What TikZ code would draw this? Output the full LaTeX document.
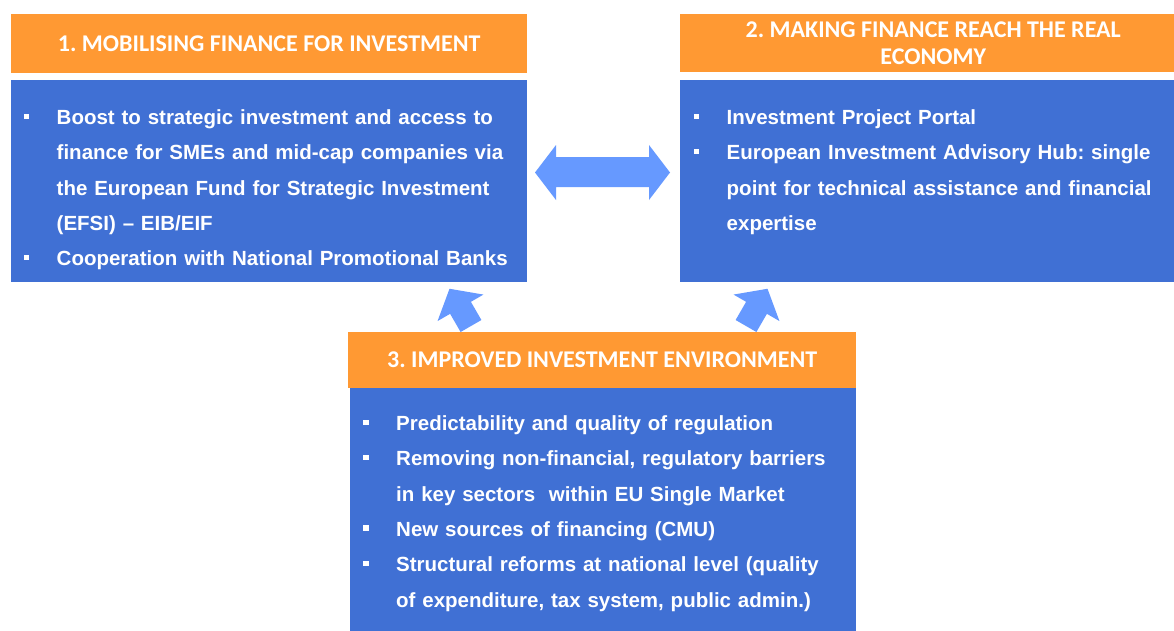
\documentclass[tikz,border=0pt]{standalone}
\usepackage{fontspec}
\setmainfont{Liberation Sans}
\newfontfamily\hdfont{Carlito}
\definecolor{hdorange}{RGB}{255,153,51}
\definecolor{boxblue}{RGB}{64,112,212}
\definecolor{arrowblue}{RGB}{102,153,255}
\newcommand{\bul}{\rule[5.5pt]{5.5pt}{5.5pt}}
\newcommand{\itm}[1]{\par\noindent\llap{\makebox[33pt][l]{\bul}}#1\par}
\newcommand{\itemsetup}{\parindent=0pt\relax\leftskip=33pt\relax}
\tikzset{
  header/.style={fill=hdorange, text=white, font=\hdfont\bfseries\frenchspacing\fontsize{24pt}{27.5pt}\selectfont, align=center, inner sep=0pt, anchor=north west},
  bodybox/.style={fill=boxblue, inner sep=0pt, anchor=north west},
  itemtext/.style={text=white, font=\bfseries\frenchspacing\fontsize{20.5pt}{35.3pt}\selectfont, align=left, inner sep=0pt, anchor=north west, text width=500pt, execute at begin node=\itemsetup},
  blockarrow/.style={fill=arrowblue},
}
\begin{document}
\begin{tikzpicture}[x=1pt,y=-1pt]
\useasboundingbox (0,0) rectangle (1174,630);
\clip (0,0) rectangle (1174,630);
\fill[white] (0,0) rectangle (1174,630);

% block arrows between the panels
\fill[blockarrow] (535,172.5) -- (556,145) -- (556,157) -- (649,157) -- (649,145) -- (670,172.5)
  -- (649,200) -- (649,187) -- (556,187) -- (556,200) -- cycle;
\begin{scope}[shift={(471,326)}, rotate=120]
  \fill[blockarrow] (0,-12) -- (21,-12) -- (21,-26.5) -- (43,0) -- (21,26.5) -- (21,12) -- (0,12) -- cycle;
\end{scope}
\begin{scope}[shift={(746,326)}, rotate=60]
  \fill[blockarrow] (0,-12) -- (21,-12) -- (21,-26.5) -- (43,0) -- (21,26.5) -- (21,12) -- (0,12) -- cycle;
\end{scope}

% panel 1
\node[header, minimum width=516pt, minimum height=58.3pt] (h1) at (11,14) {1. MOBILISING FINANCE FOR INVESTMENT};
\node[bodybox, minimum width=516pt, minimum height=202pt] (b1) at (11,80) {};
\node[itemtext] (t1) at ([xshift=12.5pt,yshift=-9pt]b1.north west) {%
\itm{\rule{0pt}{22pt}Boost to strategic investment and access to\\finance for SMEs and mid-cap companies via\\the European Fund for Strategic Investment\\(EFSI) – EIB/EIF}%
\itm{Cooperation with National Promotional Banks}};

% panel 2
\node[header, minimum width=506pt, minimum height=57.7pt] (h2) at (680,14) {2. MAKING FINANCE REACH THE REAL\\ECONOMY};
\node[bodybox, minimum width=506pt, minimum height=202pt] (b2) at (680,80) {};
\node[itemtext] (t2) at ([xshift=13.5pt,yshift=-9pt]b2.north west) {%
\itm{\rule{0pt}{22pt}Investment Project Portal}%
\itm{European Investment Advisory Hub: single\\point for technical assistance and financial\\expertise}};

% panel 3
\node[header, minimum width=508pt, minimum height=56pt] (h3) at (348,332) {3. IMPROVED INVESTMENT ENVIRONMENT};
\node[bodybox, minimum width=506pt, minimum height=250pt] (b3) at (350,388) {};
\node[itemtext] (t3) at ([xshift=13pt,yshift=-7pt]b3.north west) {%
\itm{\rule{0pt}{22pt}Predictability and quality of regulation}%
\itm{Removing non-financial, regulatory barriers\\in key sectors~ within EU Single Market}%
\itm{New sources of financing (CMU)}%
\itm{Structural reforms at national level (quality\\of expenditure, tax system, public admin.)}};
\end{tikzpicture}
\end{document}
